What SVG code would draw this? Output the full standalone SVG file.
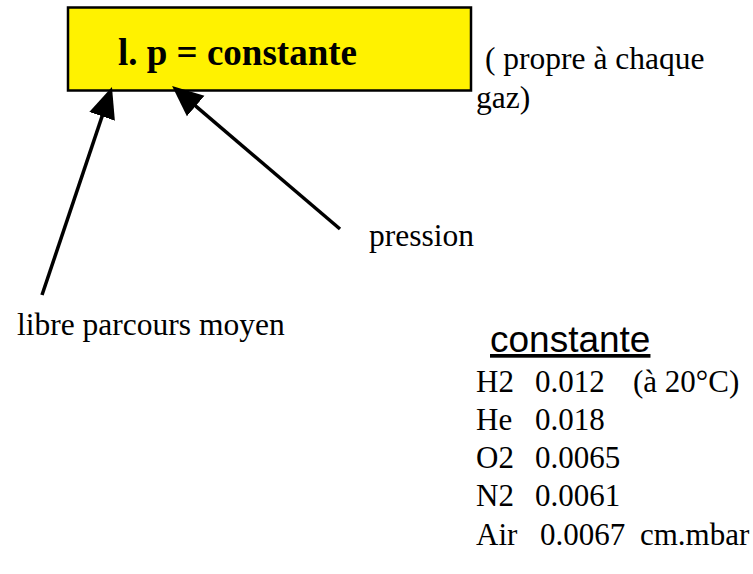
<svg xmlns="http://www.w3.org/2000/svg" width="753" height="574" viewBox="0 0 753 574">
  <defs>
    <style>
      .serif { font-family: "Liberation Serif", "Times New Roman", serif; font-size: 31.5px; fill: #000; }
      .tab { font-family: "Liberation Serif", "Times New Roman", serif; font-size: 31px; fill: #000; }
      .title { font-family: "Liberation Serif", "Times New Roman", serif; font-size: 37px; font-weight: bold; fill: #000; }
      .head { font-family: "Liberation Sans", Arial, sans-serif; font-size: 37px; fill: #000; }
      .box { fill: #FFF200; stroke: #000; stroke-width: 2.5; }
      .conn { fill: none; stroke: #000; stroke-width: 3.5; marker-end: url(#head); }
    </style>
    <!-- filled triangular arrowhead; reference point at the base so the tip extends past the line end -->
    <marker id="head" markerUnits="userSpaceOnUse" viewBox="-1 -14 32 28" markerWidth="32" markerHeight="28" refX="0" refY="0" orient="auto">
      <path d="M-1,-13.5 L30,0 L-1,13.5 z" fill="#000"/>
    </marker>
  </defs>

  <g id="formula">
    <rect class="box" x="68" y="7.5" width="403" height="83"/>
    <text class="title" x="118" y="65">l. p = constante</text>
  </g>

  <g id="note">
    <text class="serif" x="485" y="69">( propre à chaque</text>
    <text class="serif" x="476" y="108">gaz)</text>
  </g>

  <g id="pression">
    <text class="serif" x="369" y="246">pression</text>
  </g>

  <g id="libre-parcours">
    <text class="serif" x="17" y="335">libre parcours moyen</text>
  </g>

  <g id="connectors">
    <path class="conn" d="M42,295 L102.4,115.4"/>
    <path class="conn" d="M340,229 L194.9,105.4"/>
  </g>

  <g id="table">
    <text class="head" x="490" y="352" text-decoration="underline">constante</text>
    <text class="tab" x="476" y="392">H2</text>
    <text class="tab" x="535" y="392">0.012</text>
    <text class="tab" x="633" y="392">(à 20°C)</text>
    <text class="tab" x="476" y="430">He</text>
    <text class="tab" x="535" y="430">0.018</text>
    <text class="tab" x="476" y="468">O2</text>
    <text class="tab" x="535" y="468">0.0065</text>
    <text class="tab" x="476" y="506">N2</text>
    <text class="tab" x="535" y="506">0.0061</text>
    <text class="tab" x="476" y="545">Air</text>
    <text class="tab" x="540" y="545">0.0067</text>
    <text class="tab" x="640" y="545">cm.mbar</text>
  </g>
</svg>
